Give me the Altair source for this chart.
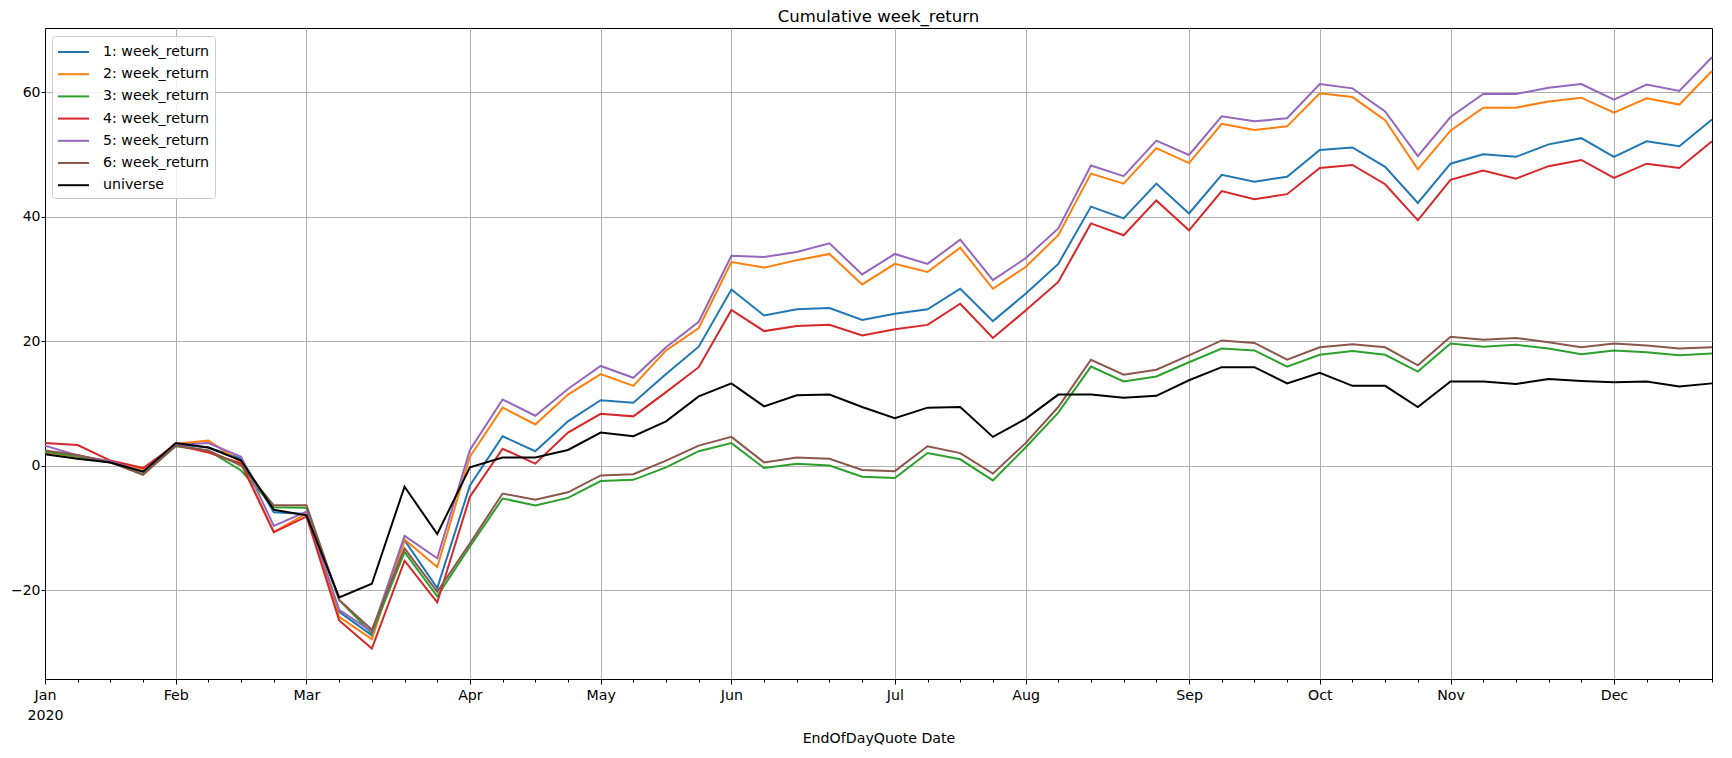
import altair as alt
import pandas as pd

# weekly periods (weeks ending Monday) of 2020
week_end = pd.date_range("2020-01-06", periods=52, freq="7D")
month_names = ["Jan", "Feb", "Mar", "Apr", "May", "Jun",
               "Jul", "Aug", "Sep", "Oct", "Nov", "Dec"]

series_names = ["1: week_return", "2: week_return", "3: week_return",
                "4: week_return", "5: week_return", "6: week_return", "universe"]
series_colors = ["#1f77b4", "#ff7f0e", "#2ca02c", "#d62728",
                 "#9467bd", "#8c564b", "#000000"]

s1 = [2.2, 1.5, 0.6, -0.9, 3.4, 2.9, 1.1, -7.5, -7.8, -23.5, -27.3, -12.0, -19.7, -3.2,
      4.7, 2.3, 7.1, 10.5, 10.1, 14.7, 19.1, 28.3, 24.1, 25.1, 25.3, 23.4, 24.4, 25.1,
      28.4, 23.2, 27.6, 32.4, 41.6, 39.7, 45.3, 40.5, 46.7, 45.6, 46.4, 50.7, 51.1, 48.0,
      42.2, 48.5, 50.0, 49.6, 51.6, 52.6, 49.6, 52.1, 51.3, 55.6]
s2 = [2.1, 1.4, 0.7, -0.6, 3.5, 4.0, 0.5, -10.7, -7.7, -24.3, -27.9, -11.9, -16.3, 1.4,
      9.3, 6.6, 11.4, 14.7, 12.8, 18.5, 22.1, 32.7, 31.8, 33.0, 34.0, 29.1, 32.4, 31.1,
      35.0, 28.4, 31.9, 37.0, 46.9, 45.3, 51.0, 48.6, 54.9, 53.9, 54.5, 59.8, 59.2, 55.5,
      47.6, 53.8, 57.5, 57.5, 58.5, 59.1, 56.7, 59.0, 58.0, 63.4]
s3 = [2.2, 1.5, 0.5, -1.4, 3.1, 2.4, -0.8, -6.7, -6.8, -21.6, -27.0, -13.9, -21.0, -13.0,
      -5.3, -6.4, -5.2, -2.5, -2.3, -0.3, 2.3, 3.6, -0.4, 0.3, 0.0, -1.8, -2.0, 2.0,
      1.0, -2.4, 2.9, 8.5, 15.9, 13.5, 14.3, 16.6, 18.8, 18.5, 15.9, 17.8, 18.4, 17.8,
      15.1, 19.6, 19.1, 19.4, 18.8, 17.9, 18.5, 18.2, 17.7, 18.0]
s4 = [3.6, 3.3, 0.8, -0.4, 3.3, 2.1, 0.3, -10.7, -8.2, -24.9, -29.4, -15.3, -22.0, -5.0,
      2.7, 0.3, 5.3, 8.3, 7.9, 11.8, 15.8, 25.0, 21.6, 22.4, 22.6, 20.9, 21.9, 22.6,
      26.0, 20.5, 24.9, 29.5, 38.9, 37.0, 42.6, 37.8, 44.1, 42.8, 43.6, 47.8, 48.3, 45.2,
      39.4, 45.9, 47.4, 46.1, 48.1, 49.1, 46.2, 48.5, 47.8, 52.1]
s5 = [3.2, 1.6, 0.7, -1.0, 3.3, 3.6, 1.4, -9.7, -7.4, -23.2, -26.7, -11.3, -14.9, 2.5,
      10.6, 8.0, 12.3, 16.0, 14.1, 19.0, 23.1, 33.7, 33.5, 34.3, 35.7, 30.7, 34.0, 32.4,
      36.3, 29.8, 33.3, 38.1, 48.2, 46.5, 52.2, 49.9, 56.1, 55.3, 55.8, 61.3, 60.6, 56.9,
      49.7, 56.0, 59.7, 59.7, 60.7, 61.3, 58.8, 61.2, 60.2, 65.6]
s6 = [2.4, 1.7, 0.5, -1.5, 3.2, 2.4, 0.0, -6.4, -6.4, -21.6, -26.4, -13.3, -20.3, -12.5,
      -4.5, -5.5, -4.3, -1.6, -1.4, 0.8, 3.2, 4.6, 0.5, 1.3, 1.1, -0.7, -0.9, 3.1,
      2.0, -1.3, 3.6, 9.4, 17.0, 14.6, 15.4, 17.7, 20.1, 19.7, 17.0, 19.0, 19.5, 19.0,
      16.1, 20.7, 20.2, 20.5, 19.8, 19.0, 19.6, 19.3, 18.8, 19.0]
universe = [1.8, 1.1, 0.5, -1.0, 3.6, 2.9, 0.8, -7.1, -8.0, -21.2, -19.0, -3.4, -11.0, -0.3,
            1.3, 1.3, 2.5, 5.3, 4.7, 7.1, 11.1, 13.2, 9.5, 11.3, 11.4, 9.4, 7.6, 9.3,
            9.4, 4.6, 7.5, 11.4, 11.4, 10.9, 11.2, 13.7, 15.8, 15.8, 13.2, 14.9, 12.8, 12.8,
            9.4, 13.5, 13.5, 13.1, 13.9, 13.6, 13.4, 13.5, 12.7, 13.2]

all_series = [s1, s2, s3, s4, s5, s6, universe]
y_ticks = [-20, 0, 20, 40, 60]

# period-axis positions (week ordinal from the first week)
week_index = list(range(len(week_end)))
month_ticks = []
for m in range(1, 13):
    first_day = pd.Timestamp(2020, m, 1)
    month_ticks.append(int((week_end >= first_day).argmax()))

rows = []
for name, vals in zip(series_names, all_series):
    for wi, d, v in zip(week_index, week_end, vals):
        rows.append({"week": wi, "date": d.strftime("%Y-%m-%d"), "series": name, "value": v})
df = pd.DataFrame(rows)

label_expr = "''"
for idx, nm in reversed(list(zip(month_ticks, month_names))):
    lab = "['Jan', '2020']" if nm == "Jan" else f"'{nm}'"
    label_expr = f"datum.value == {idx} ? {lab} : ({label_expr})"
is_month = f"indexof({month_ticks}, datum.value) >= 0"

FONT = "DejaVu Sans"

x_enc = alt.X(
    "week:Q",
    scale=alt.Scale(domain=[0, len(week_end) - 1], nice=False, zero=False),
    axis=alt.Axis(
        values=week_index,
        labelExpr=label_expr,
        tickSize={"condition": {"test": is_month, "value": 5}, "value": 3},
        gridOpacity={"condition": {"test": is_month, "value": 1}, "value": 0},
        labelOverlap=False,
        labelFlush=False,
        labelPadding=4,
        labelFontSize=14.2,
        labelLineHeight=20,
        title="EndOfDayQuote Date",
        titleFontSize=14.2,
        titlePadding=9,
    ),
)
y_enc = alt.Y(
    "value:Q",
    scale=alt.Scale(domain=[-34.3, 70.3], nice=False, zero=False),
    axis=alt.Axis(values=y_ticks, title=None, tickSize=4, labelPadding=1,
                  labelFontSize=14),
)
color_enc = alt.Color(
    "series:N",
    scale=alt.Scale(domain=series_names, range=series_colors),
    legend=alt.Legend(
        title=None,
        orient="none",
        legendX=7,
        legendY=8,
        fillColor="rgba(255,255,255,0.85)",
        strokeColor="#cccccc",
        cornerRadius=3,
        padding=5,
        symbolType="M-1,0H2.1",
        symbolSize=400,
        symbolStrokeWidth=2,
        labelFontSize=14.2,
        labelFont=FONT,
        labelColor="black",
        labelOffset=24,
        rowPadding=3.2,
        labelLimit=300,
    ),
)

base = alt.Chart(df).mark_line(strokeWidth=2).encode(x=x_enc, y=y_enc, color=color_enc)
layers = [base.transform_filter(alt.datum.series == s) for s in series_names]

chart = (
    alt.layer(*layers)
    .properties(
        width=1667,
        height=651,
        padding={"left": 37, "top": 20, "right": 12, "bottom": 70},
        autosize=alt.AutoSizeParams(type="none"),
        title=alt.TitleParams("Cumulative week_return", fontSize=16.5, font=FONT,
                              fontWeight="normal", color="black", offset=3,
                              anchor="middle"),
    )
    .configure_axis(
        gridColor="#b0b0b0", gridWidth=1, domainColor="black", domainWidth=1,
        tickColor="black", tickWidth=1, labelColor="black", labelFont=FONT,
        titleFont=FONT, titleFontWeight="normal", titleColor="black",
    )
    .configure_view(stroke="black", strokeWidth=1)
)

chart.save("out.html", embed_options={"renderer": "svg", "actions": False})
